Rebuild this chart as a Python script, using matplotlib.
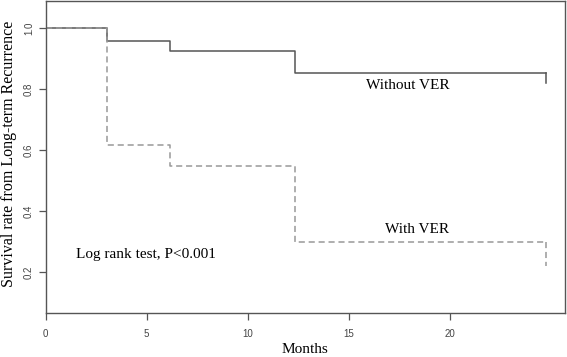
import matplotlib
matplotlib.use("Agg")
import matplotlib.pyplot as plt

# step times (months) and survival values
t_without = [0, 3.05, 6.15, 12.35, 24.75]
s_without = [1.0, 0.957, 0.925, 0.851, 0.851]
end_without = 0.819

t_with = [0, 3.05, 6.15, 12.35, 24.75]
s_with = [1.0, 0.618, 0.549, 0.298, 0.298]
end_with = 0.221

x_ticks = [0, 5, 10, 15, 20]
y_ticks = [0.2, 0.4, 0.6, 0.8, 1.0]

serif = ['Liberation Serif', 'DejaVu Serif']
sans = ['Liberation Sans', 'DejaVu Sans']

fig = plt.figure(figsize=(5.67, 3.57), dpi=100)
ax = fig.add_axes([0.0806, 0.1224, 0.9159, 0.8756])

ax.step(t_without, s_without, where='post', color='#555555', lw=1.1)
ax.plot([t_without[-1]] * 2, [s_without[-1], end_without], color='#555555', lw=1.1)
ax.step(t_with, s_with, where='post', color='#999999', lw=1.1, ls=(0, (4, 2.5)))
ax.plot([t_with[-1]] * 2, [s_with[-1], end_with], color='#999999', lw=1.1, ls=(0, (4, 2.5)))

ax.set_xlim(0, 25.7)
ax.set_ylim(0.0646, 1.0895)
ax.set_xticks(x_ticks)
ax.set_yticks(y_ticks)
ax.set_xticklabels([str(v) for v in x_ticks], fontsize=7, color='#444444', family=sans)
ax.set_yticklabels([f"{v:.1f}" for v in y_ticks], fontsize=7, color='#444444', family=sans,
                   rotation=90, va='center')
ax.tick_params(direction='out', length=5, width=0.9, color='#555555')
ax.tick_params(axis='x', pad=6.5)
ax.tick_params(axis='y', pad=3.5)
for sp in ax.spines.values():
    sp.set_color('#555555')
    sp.set_linewidth(1.0)

ax.set_xlabel("Months", fontsize=11, family=serif, labelpad=3)
ax.set_ylabel("Survival rate from Long-term Recurrence", fontsize=11.5, family=serif, va='center')
ax.yaxis.set_label_coords(-0.0707, 0.511)

ax.text(17.9, 0.81, "Without VER", fontsize=11, family=serif, ha='center', va='center')
ax.text(18.37, 0.338, "With VER", fontsize=11, family=serif, ha='center', va='center')
ax.text(1.52, 0.256, "Log rank test, P<0.001", fontsize=11, family=serif, ha='left', va='center')

fig.savefig("out.png", dpi=100)
